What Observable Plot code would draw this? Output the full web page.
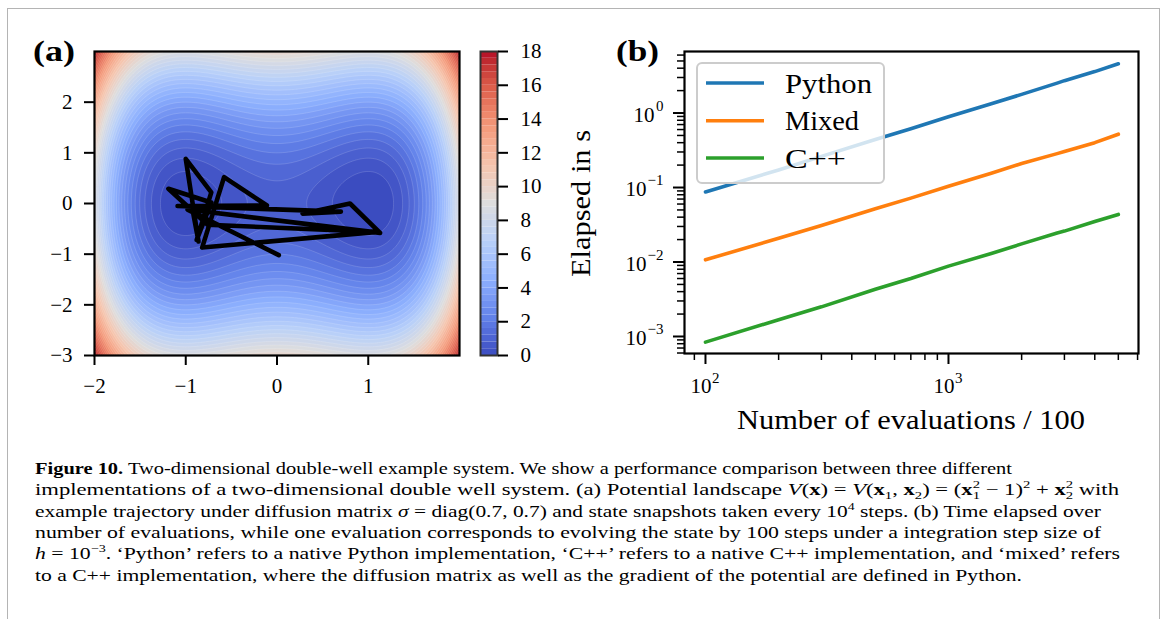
<!DOCTYPE html>
<html><head><meta charset="utf-8">
<script src="https://cdn.jsdelivr.net/npm/d3@7"></script>
<script src="https://cdn.jsdelivr.net/npm/@observablehq/plot@0.6"></script>
<style>
body{margin:0;background:#fff;width:1167px;height:619px;position:relative;overflow:hidden;font-family:"Liberation Serif",serif}
.abs{position:absolute;left:0;top:0}
#border{position:absolute;left:7px;top:8px;width:1153px;height:700px;border:1.5px solid #b4b4b4;box-sizing:border-box}
#overlay{position:absolute;left:0;top:0;pointer-events:none}
</style></head><body>
<div id="border"></div>
<div id="pa" class="abs"></div>
<div id="cb" class="abs" style="left:440px"></div>
<div id="pb" class="abs" style="left:560px"></div>
<svg id="overlay" width="1167" height="619"></svg>
<script>
// ---------- data ----------
// panel (a): example trajectory (snapshots)
const trajX = [0.02, -0.98, 1.13, 0.80, 0.28, 0.70, -1.09, -0.11, -0.58, -0.82, 1.10, -0.76, -1.19, -0.72, -0.88, -0.72, -1.00, -0.86, -0.93];
const trajY = [-1.02, -0.12, -0.58, 0.00, -0.20, -0.16, -0.05, -0.04, 0.52, -0.87, -0.56, -0.42, 0.29, 0.02, -0.72, 0.22, 0.88, -0.75, -0.08];
const xTicksA = [-2, -1, 0, 1];
const yTicksA = [-3, -2, -1, 0, 1, 2];
const cbTicks = [0, 2, 4, 6, 8, 10, 12, 14, 16, 18];
const levelStep = 0.4;
const levels = d3.range(0, 18 + 1e-9, levelStep);
// potential given in the caption: V(x) = (x1^2 - 1)^2 + x2^2
const V = (x, y) => (x * x - 1) ** 2 + y * y;

// panel (b): timings
const evaluations = [100, 200, 300, 500, 700, 1000, 1500, 2000, 2800, 3000, 4000, 5000];
const pythonTimes = [0.087, 0.172, 0.262, 0.44, 0.615, 0.89, 1.33, 1.78, 2.52, 2.72, 3.6, 4.58];
const mixedTimes  = [0.0107, 0.0208, 0.031, 0.052, 0.072, 0.104, 0.155, 0.21, 0.285, 0.305, 0.40, 0.52];
const cppTimes    = [0.00084, 0.00168, 0.0025, 0.0043, 0.006, 0.0088, 0.013, 0.0175, 0.0245, 0.026, 0.035, 0.0435];
const seriesNames = ["Python", "Mixed", "C++"];
const seriesColors = ["#1f77b4", "#ff7f0e", "#2ca02c"];
const xMajorB = [100, 1000];
const xExpB = ["2", "3"];
const xMinorB = [90, 200, 300, 400, 500, 600, 700, 800, 900, 2000, 3000, 4000, 5000, 6000];
const yMajorB = [0.001, 0.01, 0.1, 1];
const yExpB = ["\u22123", "\u22122", "\u22121", "0"];
const yMinorB = [0.0006, 0.0007, 0.0008, 0.0009,
  0.002, 0.003, 0.004, 0.005, 0.006, 0.007, 0.008, 0.009,
  0.02, 0.03, 0.04, 0.05, 0.06, 0.07, 0.08, 0.09,
  0.2, 0.3, 0.4, 0.5, 0.6, 0.7, 0.8, 0.9, 2, 3, 4, 5, 6];

// ---------- helpers ----------
const coolwarm = d3.piecewise(d3.interpolateLab,
  ["#3b4cc0", "#6282ea", "#8db0fe", "#b8d0f9", "#dddddd", "#f5c4ad", "#f49a7b", "#de604d", "#b40426"]);
const minusFmt = d => d < 0 ? "\u2212" + (-d) : String(d);
const font = {fontFamily: "Liberation Serif, serif", fontSize: "20px", color: "black", background: "transparent", overflow: "visible"};
const colorScale = {type: "linear", domain: [0, 18], interpolate: coolwarm};

// ---------- panel (a) ----------
const traj = trajX.map((x, i) => ({x, y: trajY[i]}));
const pa = Plot.plot({
  width: 470, height: 420, marginLeft: 94, marginRight: 11, marginTop: 51, marginBottom: 65,
  style: font,
  x: {domain: [-2, 2], axis: null},
  y: {domain: [-3, 3], axis: null},
  color: colorScale,
  marks: [
    Plot.contour({fill: V, x1: -2, x2: 2, y1: -3, y2: 3, thresholds: levels,
      stroke: "white", strokeOpacity: 0.25, strokeWidth: 0.6}),
    Plot.line(traj, {x: "x", y: "y", stroke: "black", strokeWidth: 4.6, strokeLinejoin: "round", strokeLinecap: "round"}),
    Plot.frame({stroke: "black", strokeWidth: 2.2}),
    Plot.axisX(xTicksA, {tickSize: 10, tickPadding: 13, strokeWidth: 2, tickFormat: minusFmt, fontSize: 21, label: null}),
    Plot.axisY(yTicksA, {tickSize: 10, tickPadding: 12, strokeWidth: 2, tickFormat: minusFmt, fontSize: 21, label: null})
  ]
});
document.getElementById("pa").appendChild(pa);

// ---------- colorbar ----------
const cb = Plot.plot({
  width: 130, height: 420, marginLeft: 40, marginRight: 73, marginTop: 51, marginBottom: 65,
  style: font,
  x: {domain: [0, 1], axis: null},
  y: {domain: [0, 18], axis: null},
  color: colorScale,
  marks: [
    Plot.rect(levels.slice(0, -1), {x1: 0, x2: 1, y1: d => d, y2: d => d + levelStep, fill: d => d + levelStep / 2}),
    Plot.frame({stroke: "#333", strokeWidth: 2}),
    Plot.axisY(cbTicks, {anchor: "right", tickSize: 10, tickPadding: 13, strokeWidth: 2, fontSize: 21, label: null})
  ]
});
document.getElementById("cb").appendChild(cb);

// ---------- panel (b) ----------
const timing = [];
[pythonTimes, mixedTimes, cppTimes].forEach((arr, k) =>
  arr.forEach((t, i) => timing.push({n: evaluations[i], t, s: seriesNames[k]})));
const xLab = xMajorB.map((v, i) => ({v, e: xExpB[i]}));
const yLab = yMajorB.map((v, i) => ({v, e: yExpB[i]}));
const yLabNeg = yLab.filter(d => d.e !== "0");
const yLabPos = yLab.filter(d => d.e === "0");
const tf = {fontFamily: "Liberation Serif, serif", fill: "black"};
const pb = Plot.plot({
  width: 600, height: 440, marginLeft: 124, marginRight: 22, marginTop: 51, marginBottom: 87,
  style: font,
  x: {type: "log", domain: [81.97, 6053], axis: null},
  y: {type: "log", domain: [0.000591, 6.70], axis: null},
  color: {domain: seriesNames, range: seriesColors},
  marks: [
    Plot.line(timing, {x: "n", y: "t", z: "s", stroke: "s", strokeWidth: 3.6}),
    Plot.frame({stroke: "black", strokeWidth: 2.2}),
    Plot.axisX(xMinorB, {tickSize: 7, strokeWidth: 1.5, text: null, label: null}),
    Plot.axisY(yMinorB, {tickSize: 7, strokeWidth: 1.5, text: null, label: null}),
    Plot.axisX(xMajorB, {tickSize: 11, strokeWidth: 2, text: null, label: null}),
    Plot.axisY(yMajorB, {tickSize: 11, strokeWidth: 2, text: null, label: null}),
    // x tick labels 10^k
    Plot.text(xLab, {x: "v", frameAnchor: "bottom", text: () => "10", textAnchor: "end", lineAnchor: "top", dx: 6, dy: 25, fontSize: 21, ...tf}),
    Plot.text(xLab, {x: "v", frameAnchor: "bottom", text: "e", textAnchor: "start", lineAnchor: "top", dx: 6.5, dy: 19, fontSize: 15, ...tf}),
    // y tick labels 10^k
    Plot.text(yLab, {y: "v", frameAnchor: "left", text: "e", textAnchor: "end", lineAnchor: "middle", dx: -21, dy: -7, fontSize: 15, ...tf}),
    Plot.text(yLabNeg, {y: "v", frameAnchor: "left", text: () => "10", textAnchor: "end", lineAnchor: "middle", dx: -38, dy: 2, fontSize: 21, ...tf}),
    Plot.text(yLabPos, {y: "v", frameAnchor: "left", text: () => "10", textAnchor: "end", lineAnchor: "middle", dx: -30, dy: 2, fontSize: 21, ...tf})
  ]
});
document.getElementById("pb").appendChild(pb);

// ---------- overlay: labels, legend, caption ----------
const ov = d3.select("#overlay");
function txt(s, x, y, size, len, opts = {}) {
  const t = ov.append("text").attr("x", x).attr("y", y)
    .attr("font-family", "Liberation Serif, serif").attr("font-size", size).attr("fill", "black");
  if (opts.bold) t.attr("font-weight", "bold");
  if (opts.transform) t.attr("transform", opts.transform);
  if (opts.anchor) t.attr("text-anchor", opts.anchor);
  if (typeof s === "string") t.text(s); else s(t);
  if (len) t.attr("textLength", len).attr("lengthAdjust", "spacingAndGlyphs");
  return t;
}
txt("(a)", 33, 61, 29, 42, {bold: true});
txt("(b)", 616, 61, 29, 43, {bold: true});
txt("Number of evaluations / 100", 737, 429, 27, 348);
txt("Elapsed in s", 0, 0, 27, 147, {transform: "translate(590,203.5) rotate(-90)", anchor: "middle"});

// legend
ov.append("rect").attr("x", 697).attr("y", 63).attr("width", 187).attr("height", 120).attr("rx", 5)
  .attr("fill", "white").attr("fill-opacity", 0.8).attr("stroke", "#cccccc").attr("stroke-width", 2);
const legY = [83, 120.7, 158];
const legBase = [93, 130, 168];
const legLen = [87, 74, 61];
seriesNames.forEach((name, i) => {
  ov.append("line").attr("x1", 706).attr("x2", 764).attr("y1", legY[i]).attr("y2", legY[i])
    .attr("stroke", seriesColors[i]).attr("stroke-width", 3.6);
  txt(name, 785, legBase[i], 27, legLen[i]);
});

// caption
const capBase = [474, 495.3, 516.6, 537.9, 559.2, 580.5];
const capLen = [977, 1084, 1066, 1066, 1085, 987];
const cs = 17;
function sp(t, s, o = {}) {
  const e = t.append("tspan").text(s);
  if (o.b) e.attr("font-weight", "bold");
  if (o.i) e.attr("font-style", "italic");
  if (o.size) e.attr("font-size", o.size);
  if (o.dy !== undefined) e.attr("dy", o.dy);
  if (o.dx !== undefined) e.attr("dx", o.dx);
  return e;
}
txt(t => { sp(t, "Figure 10.", {b: true}); sp(t, " Two-dimensional double-well example system. We show a performance comparison between three different"); },
  35, capBase[0], cs, capLen[0]);
txt(t => {
  sp(t, "implementations of a two-dimensional double well system. (a) Potential landscape ");
  sp(t, "V", {i: true}); sp(t, "("); sp(t, "x", {b: true}); sp(t, ") = "); sp(t, "V", {i: true}); sp(t, "(");
  sp(t, "x", {b: true}); sp(t, "1", {size: 11, dy: 4}); sp(t, ", ", {dy: -4});
  sp(t, "x", {b: true}); sp(t, "2", {size: 11, dy: 4}); sp(t, ") = (", {dy: -4});
  sp(t, "x", {b: true}); sp(t, "2", {size: 11, dy: -7}); sp(t, "1", {size: 11, dy: 11, dx: -5.5}); sp(t, " \u2212 1)", {dy: -4});
  sp(t, "2", {size: 11, dy: -7}); sp(t, " + ", {dy: 7});
  sp(t, "x", {b: true}); sp(t, "2", {size: 11, dy: -7}); sp(t, "2", {size: 11, dy: 11, dx: -5.5}); sp(t, " with", {dy: -4});
}, 35, capBase[1], cs, capLen[1]);
txt(t => {
  sp(t, "example trajectory under diffusion matrix "); sp(t, "\u03c3", {i: true});
  sp(t, " = diag(0.7, 0.7) and state snapshots taken every 10"); sp(t, "4", {size: 11, dy: -7});
  sp(t, " steps. (b) Time elapsed over", {dy: 7});
}, 35, capBase[2], cs, capLen[2]);
txt("number of evaluations, while one evaluation corresponds to evolving the state by 100 steps under a integration step size of",
  35, capBase[3], cs, capLen[3]);
txt(t => {
  sp(t, "h", {i: true}); sp(t, " = 10"); sp(t, "\u22123", {size: 11, dy: -7});
  sp(t, ". \u2018Python\u2019 refers to a native Python implementation, \u2018C++\u2019 refers to a native C++ implementation, and \u2018mixed\u2019 refers", {dy: 7});
}, 35, capBase[4], cs, capLen[4]);
txt("to a C++ implementation, where the diffusion matrix as well as the gradient of the potential are defined in Python.",
  35, capBase[5], cs, capLen[5]);
</script>
</body></html>
